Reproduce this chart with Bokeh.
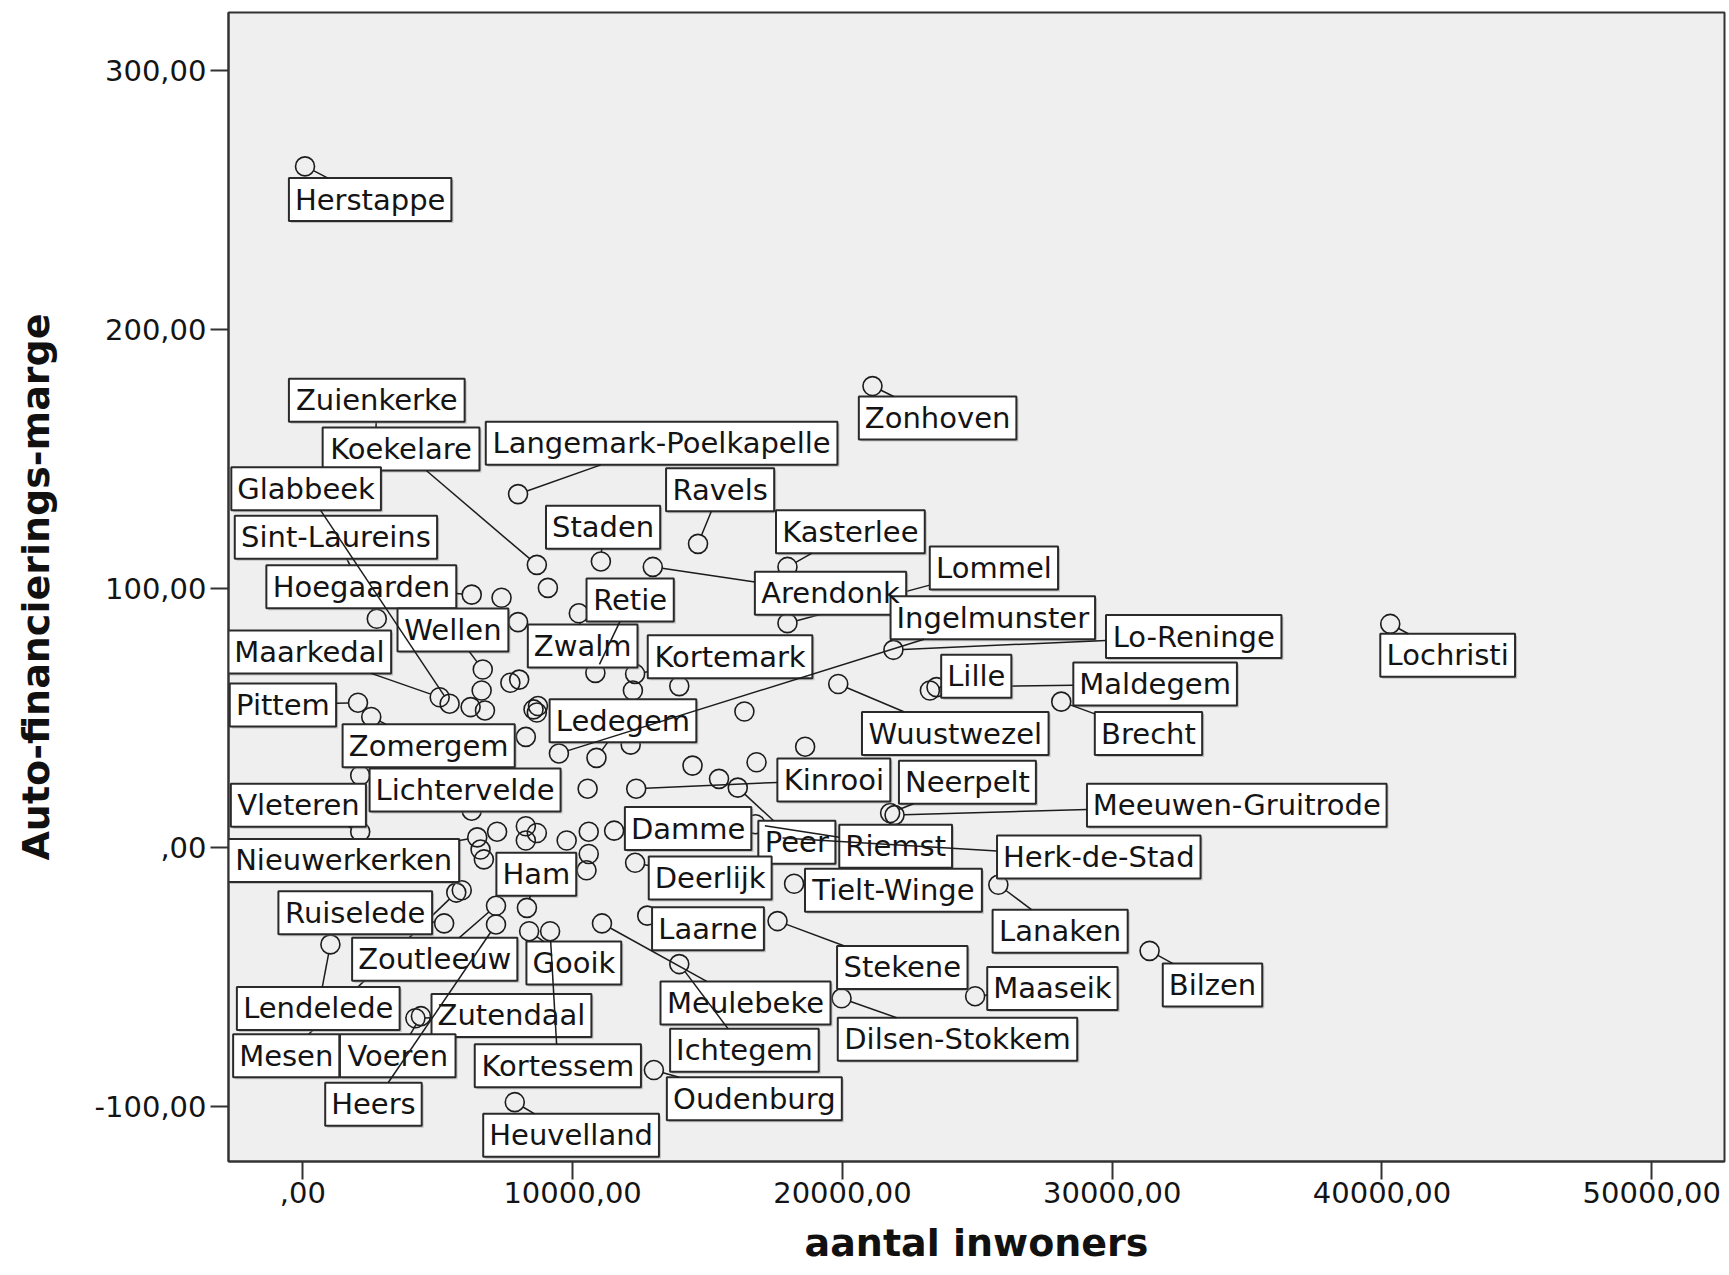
from math import hypot
from bokeh.plotting import figure
from bokeh.models import Range1d, FixedTicker, ColumnDataSource
from bokeh.core.properties import value
from bokeh.embed import file_html
from bokeh.resources import INLINE

# ---------------- data ----------------
municipality = [
    "Herstappe", "Zonhoven", "Lochristi", "Langemark-Poelkapelle", "Ravels",
    "Koekelare", "", "Staden", "Arendonk", "Kasterlee",
    "Lommel", "Lo-Reninge", "Wuustwezel", "Lille", "Brecht",
    "Maldegem", "Peer", "Kinrooi", "Neerpelt", "Meeuwen-Gruitrode",
    "Riemst", "Herk-de-Stad", "Tielt-Winge", "Lanaken", "Stekene",
    "Maaseik", "Dilsen-Stokkem", "Bilzen", "Ichtegem", "Oudenburg",
    "Heuvelland", "Laarne", "Deerlijk", "Damme", "Meulebeke",
    "", "", "", "", "",
    "", "", "", "Nieuwerkerken", "",
    "", "", "Mesen", "Ruiselede", "Zoutleeuw",
    "Heers", "Ham", "Gooik", "Kortessem", "Lendelede",
    "Zutendaal", "Voeren", "Vleteren", "", "Zomergem",
    "Pittem", "Sint-Laureins", "Hoegaarden", "", "",
    "Zwalm", "Wellen", "", "", "",
    "Maarkedal", "Glabbeek", "", "", "",
    "", "", "", "Ingelmunster", "Ledegem",
    "Retie", "Kortemark", "", "", "",
    "", "Lichtervelde", "", "", "",
    "", "", "Zuienkerke",
]
inwoners = [
    82, 21115, 40306, 7979, 14649,
    8675, 9084, 11048, 12972, 17964,
    17964, 21892, 19846, 23243, 28112,
    23488, 16122, 12358, 21769, 21933,
    16777, 17432, 18209, 25780, 17596,
    24920, 19969, 31386, 13954, 13013,
    7857, 12767, 12317, 11539, 11089,
    10598, 10516, 10598, 9780, 8266,
    8675, 8266, 7202, 6465, 6588,
    6711, 5892, 5688, 5238, 7161,
    7161, 8307, 8389, 9166, 1023,
    4174, 4378, 2128, 2128, 2537,
    2046, 2742, 6261, 7366, 7979,
    10230, 6670, 6629, 6752, 6220,
    5074, 5442, 7693, 8020, 8552,
    8675, 8716, 8266, 9493, 10885,
    10844, 12317, 13954, 12235, 12153,
    10557, 6261, 16368, 18619, 14445,
    16818, 15427, 2701,
]
marge = [
    262.8, 178.0, 86.2, 136.3, 117.1,
    109.0, 100.1, 110.3, 108.2, 108.2,
    86.5, 76.2, 63.0, 60.5, 56.2,
    61.8, 23.0, 22.6, 13.2, 12.4,
    8.9, 3.8, -14.1, -14.5, -28.5,
    -57.5, -58.3, -40.0, -45.1, -86.0,
    -98.4, -26.4, -6.0, 6.4, -29.4,
    -2.6, -8.9, 6.0, 2.6, 8.1,
    5.5, 2.6, 6.0, 3.8, -0.9,
    -4.7, -16.6, -17.5, -29.4, -22.6,
    -29.8, -23.4, -32.4, -32.4, -37.5,
    -66.0, -65.2, 6.0, 27.7, 50.3,
    55.8, 88.2, 97.5, 96.3, 86.9,
    90.3, 68.6, 60.5, 52.8, 54.1,
    57.9, 55.4, 63.5, 64.7, 53.2,
    52.0, 54.5, 42.6, 36.2, 34.5,
    67.3, 66.9, 62.2, 60.5, 39.6,
    22.6, 14.1, 52.4, 38.8, 31.5,
    32.8, 26.4, 157.2,
]

x_ticks = [0, 10000, 20000, 30000, 40000, 50000]
x_tick_labels = [",00", "10000,00", "20000,00", "30000,00", "40000,00", "50000,00"]
y_ticks = [-100, 0, 100, 200, 300]
y_tick_labels = ["-100,00", ",00", "100,00", "200,00", "300,00"]

x_title = "aantal inwoners"
y_title = "Auto-financierings-marge"

# ---------------- layout (label box centres, in data units) ----------------
LABEL_CENTER = {
    "Herstappe": (2496, 250.0), "Zonhoven": (23529, 165.7), "Lochristi": (42434, 74.1),
    "Zuienkerke": (2742, 172.5), "Koekelare": (3642, 153.7),
    "Langemark-Poelkapelle": (13299, 155.9), "Glabbeek": (123, 138.4),
    "Sint-Laureins": (1228, 119.7), "Hoegaarden": (2169, 100.5), "Wellen": (5565, 83.9),
    "Maarkedal": (246, 75.4), "Pittem": (-737, 54.9), "Zomergem": (4665, 39.2),
    "Lichtervelde": (6015, 22.1), "Vleteren": (-164, 16.2), "Nieuwerkerken": (1514, -5.1),
    "Ham": (8655, -10.4), "Ruiselede": (1944, -25.3), "Zoutleeuw": (4890, -43.2),
    "Lendelede": (573, -62.2), "Zutendaal": (7734, -64.9), "Mesen": (-614, -80.5),
    "Voeren": (3519, -80.5), "Heers": (2619, -99.2), "Gooik": (10046, -44.7),
    "Kortessem": (9453, -84.3), "Heuvelland": (9944, -111.2), "Oudenburg": (16736, -97.1),
    "Ichtegem": (16368, -78.4), "Meulebeke": (16409, -60.1), "Laarne": (15018, -31.5),
    "Deerlijk": (15100, -11.9), "Damme": (14281, 7.2), "Peer": (18312, 1.9),
    "Kinrooi": (19683, 26.0), "Neerpelt": (24634, 25.1), "Meeuwen-Gruitrode": (34618, 16.2),
    "Riemst": (21974, 0.4), "Herk-de-Stad": (29503, -3.8), "Tielt-Winge": (21892, -16.6),
    "Lanaken": (28071, -32.4), "Stekene": (22220, -46.4), "Maaseik": (27785, -54.5),
    "Dilsen-Stokkem": (24266, -74.1), "Bilzen": (33718, -53.2), "Brecht": (31345, 43.9),
    "Maldegem": (31591, 63.0), "Lille": (24962, 66.0), "Wuustwezel": (24184, 43.9),
    "Lo-Reninge": (33022, 81.3), "Ingelmunster": (25575, 88.6), "Lommel": (25616, 107.8),
    "Arendonk": (19560, 98.0), "Kasterlee": (20296, 121.8), "Ravels": (15468, 138.0),
    "Staden": (11130, 123.5), "Retie": (12133, 95.4), "Zwalm": (10373, 77.7),
    "Kortemark": (15836, 73.5), "Ledegem": (11867, 48.8),
}
# leaders that pass behind other label boxes
LEADER_UNDER = {"Maldegem", "Sint-Laureins", "Zuienkerke", "Mesen", "Lommel"}

W, H = 1727, 1275
FRAME_W, FRAME_H = 1496, 1149
X0, X1 = -2754, 52695
Y0, Y1 = -121.3, 322.2
FONT = "DejaVu Sans"
LABEL_PX = 29
BOX_H = 43
BOX_PAD = 12
CIRCLE_D = 19
INK = "#1c1c1c"

# DejaVu Sans advance widths (em)
CHAR_W = {
    "a": .613, "b": .635, "c": .550, "d": .635, "e": .615, "f": .352, "g": .635,
    "h": .634, "i": .278, "j": .278, "k": .579, "l": .278, "m": .974, "n": .634,
    "o": .612, "p": .635, "r": .411, "s": .521, "t": .392, "u": .634, "v": .592,
    "w": .818, "z": .525, "-": .361,
    "A": .684, "B": .686, "D": .770, "G": .775, "H": .752, "I": .295, "K": .656,
    "L": .557, "M": .863, "N": .748, "O": .787, "P": .603, "R": .695, "S": .635,
    "T": .611, "V": .684, "W": .989, "Z": .686,
}


def text_px(s):
    return sum(CHAR_W.get(c, 0.6) for c in s) * LABEL_PX


p = figure(
    frame_width=FRAME_W, frame_height=FRAME_H,
    x_range=Range1d(X0, X1), y_range=Range1d(Y0, Y1),
    output_backend="svg", toolbar_location=None,
    min_border_left=228, min_border_right=W - 228 - FRAME_W, min_border_top=12,
    min_border_bottom=H - 12 - FRAME_H,
    background_fill_color="#efefef", border_fill_color="white",
    outline_line_color="#333333", outline_line_width=2,
)
p.grid.visible = False

# points
src = ColumnDataSource(dict(x=inwoners, y=marge, name=municipality))
p.scatter(x="x", y="y", source=src, marker="circle", size=CIRCLE_D,
          fill_color=None, line_color=INK, line_width=1.6)

# label boxes, texts and leader lines
sx = FRAME_W / (X1 - X0)
sy = FRAME_H / (Y1 - Y0)
bx, by, bw, bt = [], [], [], []
over = dict(x0=[], y0=[], x1=[], y1=[])
under = dict(x0=[], y0=[], x1=[], y1=[])
for name, x, y in zip(municipality, inwoners, marge):
    if not name:
        continue
    cx, cy = LABEL_CENTER[name]
    w = text_px(name) + BOX_PAD
    bx.append(cx); by.append(cy); bw.append(w); bt.append(name)
    dxp = (x - cx) * sx
    dyp = (y - cy) * sy
    hw, hh = w / 2, BOX_H / 2
    if abs(dxp) <= hw and abs(dyp) <= hh:
        continue
    t = min(hw / abs(dxp) if dxp else 1e9, hh / abs(dyp) if dyp else 1e9)
    dist = hypot(dxp, dyp)
    te = 1 - (CIRCLE_D / 2) / dist
    if te > t:
        d = under if name in LEADER_UNDER else over
        d["x0"].append(cx + t * (x - cx)); d["y0"].append(cy + t * (y - cy))
        d["x1"].append(cx + te * (x - cx)); d["y1"].append(cy + te * (y - cy))

p.segment(source=ColumnDataSource(under), x0="x0", y0="y0", x1="x1", y1="y1",
          line_color=INK, line_width=1.5)
shx = [v + 2 / sx for v in bx]
shy = [v - 2 / sy for v in by]
p.rect(x=shx, y=shy, width=bw, height=BOX_H, width_units="screen", height_units="screen",
       fill_color="#8a8a8a", fill_alpha=0.45, line_color=None)
p.rect(x=bx, y=by, width=bw, height=BOX_H, width_units="screen", height_units="screen",
       fill_color="white", line_color="#2a2a2a", line_width=2)
p.text(x=bx, y=by, text=bt, text_align="center", text_baseline="middle",
       text_font=value(FONT), text_font_size=f"{LABEL_PX}px", text_color="#141414")
p.segment(source=ColumnDataSource(over), x0="x0", y0="y0", x1="x1", y1="y1",
          line_color=INK, line_width=1.5)

# axes
p.xaxis.ticker = FixedTicker(ticks=x_ticks)
p.xaxis.major_label_overrides = dict(zip(x_ticks, x_tick_labels))
p.yaxis.ticker = FixedTicker(ticks=y_ticks)
p.yaxis.major_label_overrides = dict(zip(y_ticks, y_tick_labels))
p.xaxis.axis_label = x_title
p.yaxis.axis_label = y_title
for ax in (p.xaxis[0], p.yaxis[0]):
    ax.axis_line_color = "#333333"
    ax.axis_line_width = 2
    ax.major_tick_line_color = "#333333"
    ax.major_tick_line_width = 2
    ax.major_tick_out = 18
    ax.major_tick_in = 0
    ax.minor_tick_line_color = None
    ax.major_label_text_font = FONT
    ax.major_label_text_font_size = "29px"
    ax.major_label_text_color = "#141414"
    ax.axis_label_text_font = FONT
    ax.axis_label_text_font_style = "bold"
    ax.axis_label_text_font_size = "38px"
    ax.axis_label_text_color = "#111111"
p.xaxis.major_label_standoff = 2
p.xaxis.axis_label_standoff = 15
p.yaxis.major_label_standoff = 4
p.yaxis.axis_label_standoff = 34

open("out.html", "w").write(file_html(p, INLINE))
